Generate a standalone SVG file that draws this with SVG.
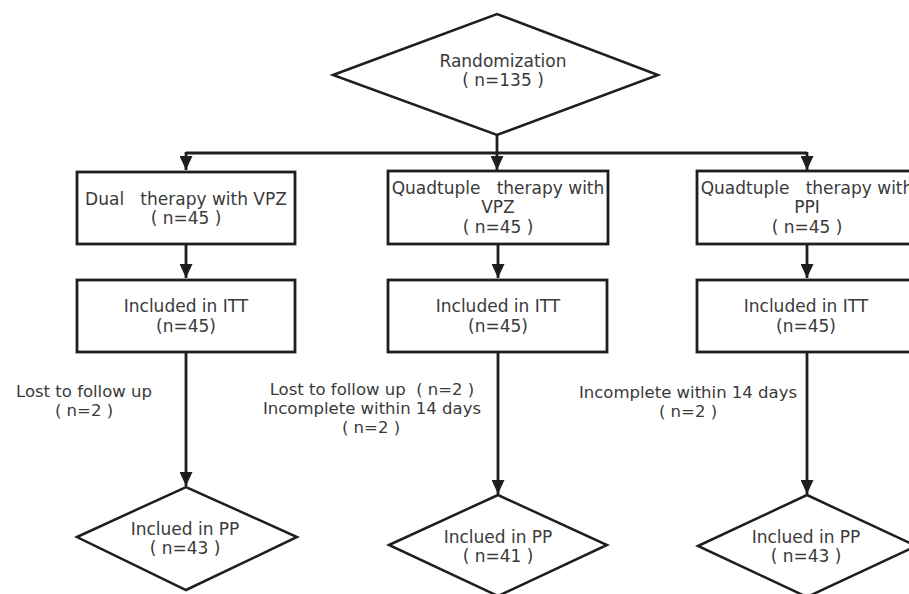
<svg xmlns="http://www.w3.org/2000/svg" width="909" height="594" viewBox="0 0 909 594">
<style>
  .shape { fill: #ffffff; stroke: #1e1e1e; stroke-width: 2.8; }
  .dia { fill: #ffffff; stroke: #1e1e1e; stroke-width: 2.5; stroke-linejoin: miter; }
  .conn { fill: none; stroke: #1e1e1e; stroke-width: 2.8; }
  text { font-family: "DejaVu Sans", "Open Sans", sans-serif; font-size: 17px; fill: #3a3a3a; text-anchor: middle; }
  .lbl { font-size: 16.5px; }
</style>
<defs>
  <marker id="arr" markerUnits="userSpaceOnUse" markerWidth="14" markerHeight="13" refX="14" refY="6.5" orient="auto">
    <path d="M0,0 L14,6.5 L0,13 z" fill="#1e1e1e"/>
  </marker>
</defs>
<rect width="909" height="594" fill="#ffffff"/>

<g id="connectors">
  <path class="conn" d="M497,135 V170" marker-end="url(#arr)"/>
  <path class="conn" d="M186,153 H807"/>
  <path class="conn" d="M186,152 V170" marker-end="url(#arr)"/>
  <path class="conn" d="M807,152 V170" marker-end="url(#arr)"/>
  <path class="conn" d="M186,244 V278" marker-end="url(#arr)"/>
  <path class="conn" d="M498,244 V278" marker-end="url(#arr)"/>
  <path class="conn" d="M807,244 V278" marker-end="url(#arr)"/>
  <path class="conn" d="M186,352 V486" marker-end="url(#arr)"/>
  <path class="conn" d="M498,352 V494" marker-end="url(#arr)"/>
  <path class="conn" d="M807,352 V494" marker-end="url(#arr)"/>
</g>

<g id="randomization">
  <polygon class="dia" points="333,75 497,14 658,75 497,135"/>
  <text x="503" y="67">Randomization</text>
  <text x="503" y="86" xml:space="preserve">( n=135 )</text>
</g>

<g id="dual">
  <rect class="shape" x="77" y="172" width="218" height="72"/>
  <text x="186" y="205" xml:space="preserve">Dual   therapy with VPZ</text>
  <text x="186" y="224" xml:space="preserve">( n=45 )</text>
</g>

<g id="quad-vpz">
  <rect class="shape" x="388" y="171" width="220" height="73"/>
  <text x="498" y="194" xml:space="preserve">Quadtuple   therapy with</text>
  <text x="498" y="213">VPZ</text>
  <text x="498" y="233" xml:space="preserve">( n=45 )</text>
</g>

<g id="quad-ppi">
  <rect class="shape" x="697" y="171" width="220" height="73"/>
  <text x="807" y="194" xml:space="preserve">Quadtuple   therapy with</text>
  <text x="807" y="213">PPI</text>
  <text x="807" y="233" xml:space="preserve">( n=45 )</text>
</g>

<g id="itt1">
  <rect class="shape" x="77" y="280" width="218" height="72"/>
  <text x="186" y="312">Included in ITT</text>
  <text x="186" y="332">(n=45)</text>
</g>

<g id="itt2">
  <rect class="shape" x="388" y="280" width="219" height="72"/>
  <text x="498" y="312">Included in ITT</text>
  <text x="498" y="332">(n=45)</text>
</g>

<g id="itt3">
  <rect class="shape" x="697" y="280" width="220" height="72"/>
  <text x="806" y="312">Included in ITT</text>
  <text x="806" y="332">(n=45)</text>
</g>

<g id="label1">
  <text class="lbl" x="84" y="397">Lost to follow up</text>
  <text class="lbl" x="84" y="416" xml:space="preserve">( n=2 )</text>
</g>

<g id="label2">
  <text class="lbl" x="372" y="395" xml:space="preserve">Lost to follow up  ( n=2 )</text>
  <text class="lbl" x="372" y="414">Incomplete within 14 days</text>
  <text class="lbl" x="371" y="433" xml:space="preserve">( n=2 )</text>
</g>

<g id="label3">
  <text class="lbl" x="688" y="398">Incomplete within 14 days</text>
  <text class="lbl" x="688" y="417" xml:space="preserve">( n=2 )</text>
</g>

<g id="pp1">
  <polygon class="dia" points="77,537 186,487 297,537 186,590"/>
  <text x="185" y="535">Inclued in PP</text>
  <text x="185" y="554" xml:space="preserve">( n=43 )</text>
</g>

<g id="pp2">
  <polygon class="dia" points="389,545 498,495 607,545 498,596"/>
  <text x="498" y="543">Inclued in PP</text>
  <text x="498" y="562" xml:space="preserve">( n=41 )</text>
</g>

<g id="pp3">
  <polygon class="dia" points="698,546 807,495 916,546 807,597"/>
  <text x="806" y="543">Inclued in PP</text>
  <text x="806" y="562" xml:space="preserve">( n=43 )</text>
</g>
</svg>
